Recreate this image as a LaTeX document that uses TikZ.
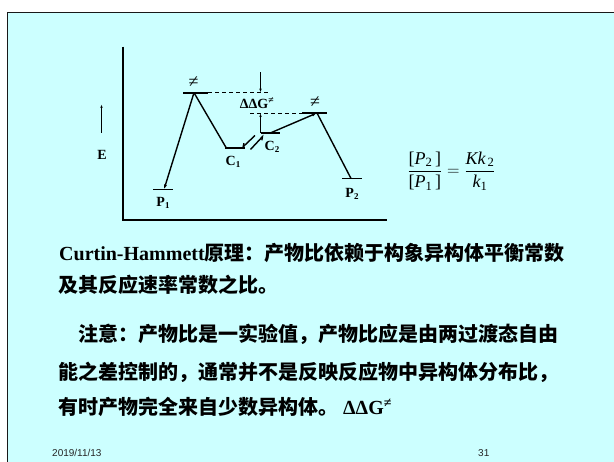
\documentclass[tikz,border=0pt]{standalone}
\usepackage{fontspec}
\usepackage{amsmath}
\setmainfont{Liberation Serif}
\newfontfamily\cjk{Noto Sans CJK SC}
\newfontfamily\arialf{Liberation Sans}
\usetikzlibrary{arrows.meta}
\definecolor{slidebg}{RGB}{204,255,255}
\newcommand\lsub[1]{\raisebox{-0.35ex}{\fontsize{9}{9}\selectfont #1}}
\begin{document}
\begin{tikzpicture}[x=1pt,y=-1pt,
  lvl/.style={line width=1.8pt},
  conn/.style={line width=1.4pt},
  dashln/.style={line width=0.9pt, dash pattern=on 4pt off 3pt},
  tipped/.style={-{Latex[length=5pt,width=3.2pt]}},
  lab/.style={font=\fontsize{14}{14}\selectfont\bfseries, inner sep=0pt},
  neq/.style={font=\fontsize{18}{18}\selectfont, inner sep=0pt},
  body/.style={font=\fontsize{20}{24}\selectfont\bfseries, anchor=base west, inner sep=0pt},
  foot/.style={font=\arialf\fontsize{10}{10}\selectfont, anchor=base west, inner sep=0pt, text=black!85},
]
\useasboundingbox (0,0) rectangle (614,462);
\fill[slidebg] (7.5,12.5) rectangle (614,462);
\draw[line width=1.5pt, black!90] (7.5,462) -- (7.5,12.5) -- (614,12.5);

% axes
\coordinate (axT) at (122.7,46.7);
\coordinate (ax0) at (122.7,220);
\coordinate (axR) at (387,220);
\draw[line width=1.8pt] (axT) -- (ax0) -- (axR);

% E arrow
\coordinate (eB) at (101.5,133);
\coordinate (eT) at (101.5,104);
\draw[line width=1.1pt, -{Latex[length=4pt,width=2.4pt]}] (eB) -- (eT);
\node[lab] (E) at (102,155) {E};

% levels
\coordinate (p1a) at (153,189.5); \coordinate (p1b) at (173,189.5);
\coordinate (t1a) at (183,92.7);  \coordinate (t1b) at (208,92.7);
\coordinate (c1a) at (225,148.3); \coordinate (c1b) at (245,148.3);
\coordinate (c2a) at (260.5,132.7); \coordinate (c2b) at (280,132.7);
\coordinate (t2a) at (302,113);   \coordinate (t2b) at (327,113);
\coordinate (p2a) at (342,178.5); \coordinate (p2b) at (362,178.5);
\foreach \l in {p1,t1,c1,c2,t2,p2} \draw[lvl] (\l a) -- (\l b);

% connection points
\coordinate (t1m) at (194,92.7);
\coordinate (p1m) at (164,189.5);
\coordinate (c1m) at (226.5,148.3);
\coordinate (c2m) at (271,132.7);
\coordinate (t2m) at (317,113);
\coordinate (p2m) at (351,178.5);
\draw[conn,tipped] (t1m) -- (p1m);
\draw[conn] (t1m) -- (c1m);
\draw[conn,tipped] (c2m) -- (t2m);
\draw[conn] (t2m) -- (p2m);

% equilibrium harpoons
\coordinate (h1a) at (255,135.5);   \coordinate (h1b) at (241.5,148.3);
\coordinate (h2a) at (250.5,149.5); \coordinate (h2b) at (264,135);
\draw[conn, -{Straight Barb[harpoon,swap,length=3pt,width=4pt]}] (h1a) -- (h1b);
\draw[conn, -{Straight Barb[harpoon,swap,length=3pt,width=4pt]}] (h2a) -- (h2b);

% dashed lines and DDG arrows
\coordinate (d1b) at (270,92.7);
\coordinate (d2a) at (250,113);
\draw[dashln] (t1b) -- (d1b);
\draw[dashln] (d2a) -- (t2a);
\coordinate (ar1a) at (260.5,72.5); \coordinate (ar1b) at (260.5,92.7);
\coordinate (ar2a) at (260.5,132.7); \coordinate (ar2b) at (260.5,113);
\draw[line width=1pt, -{Latex[length=4pt,width=2.5pt]}] (ar1a) -- (ar1b);
\draw[line width=1pt, -{Latex[length=4pt,width=2.5pt]}] (ar2a) -- (ar2b);

% labels
\node[neq] (ne1) at (193.5,82) {≠};
\node[neq] (ne2) at (315,102) {≠};
\node[lab] (ddg) at (257,103.5) {ΔΔG\textsuperscript{≠}};
\node[lab] (lP1) at (163,203) {P\lsub{1}};
\node[lab] (lC1) at (233,162) {C\lsub{1}};
\node[lab] (lC2) at (272,147) {C\lsub{2}};
\node[lab] (lP2) at (352,194) {P\lsub{2}};

% formula
\node[font=\fontsize{18}{18}\selectfont, anchor=base, inner sep=0pt] (frm) at (451.5,176)
  {$\dfrac{\text{[}\textit{P}_{\text{2}}\,\text{]}}{\text{[}\textit{P}_{\text{1}}\,\text{]}} = \dfrac{\textit{Kk}_{\,\text{2}}}{\textit{k}_{\text{1}}}$};

% body text
\node[body] (l1) at (59,261) {Curtin-Hammett{\cjk 原理：产物比依赖于构象异构体平衡常数}};
\node[body] (l2) at (58,293) {\cjk 及其反应速率常数之比。};
\node[body] (l3) at (78,341.5) {\cjk 注意：产物比是一实验值，产物比应是由两过渡态自由};
\node[body] (l4) at (58,380) {\cjk 能之差控制的，通常并不是反映反应物中异构体分布比，};
\node[body] (l5) at (58,415) {{\cjk 有时产物完全来自少数异构体。} ΔΔG\textsuperscript{≠}};

% footer
\node[foot] (date) at (52,457) {2019/11/13};
\node[foot] (pg) at (478,457) {31};
\end{tikzpicture}
\end{document}
